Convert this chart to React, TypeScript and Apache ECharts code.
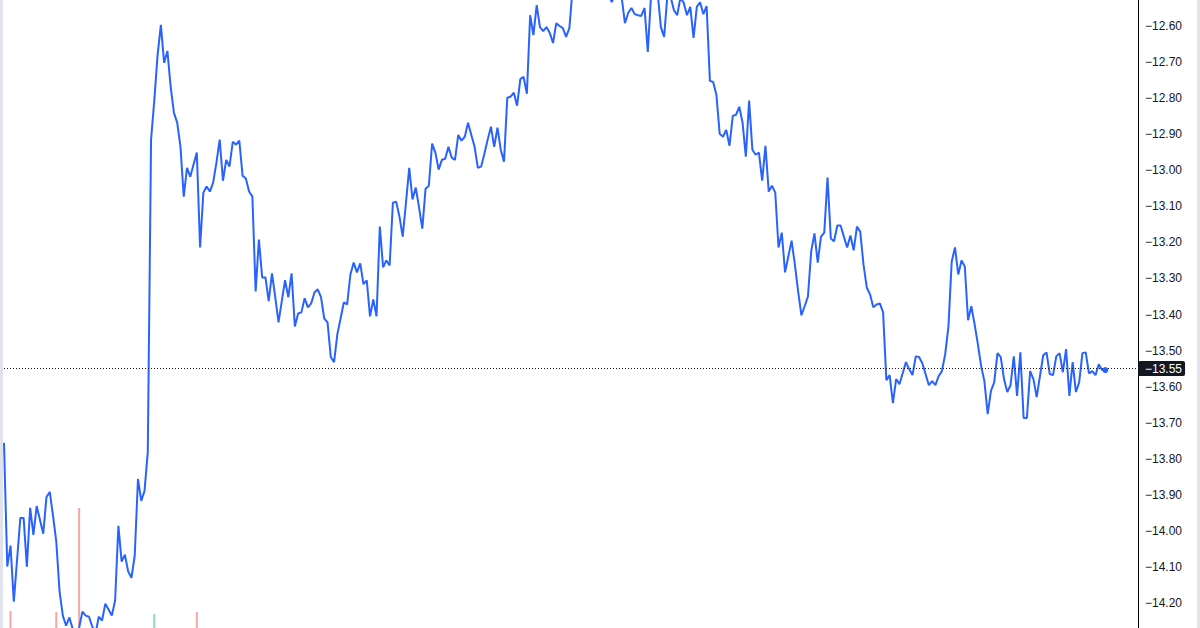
import React, { useEffect, useRef } from "react";
import * as echarts from "echarts";

// Price series (session pieces, in order)
const earlyPrices = [
  -13.756, -14.099, -14.041, -14.196, -14.080, -13.964, -13.964, -14.099, -13.936, -14.011,
  -13.931, -13.969, -14.008, -13.906, -13.892, -13.958, -14.030, -14.168, -14.235, -14.263,
  -14.240, -14.271, -14.298, -14.268, -14.224, -14.235, -14.238, -14.265, -14.285, -14.238,
  -14.249, -14.202, -14.218, -14.235, -14.193, -13.986, -14.085, -14.066, -14.113, -14.130,
  -14.069, -13.856, -13.917, -13.889, -13.781,
];
const spikePrices = [
  -12.915, -12.805, -12.680, -12.597, -12.702, -12.669, -12.769, -12.841, -12.868, -12.935,
  -13.073, -12.993, -13.018, -12.984, -12.951, -13.214, -13.062, -13.045, -13.059, -13.034,
  -12.979, -12.915, -13.029, -12.971, -12.990, -12.921, -12.929, -12.918, -13.015, -13.023,
  -13.059, -13.073,
];
const middayPrices = [
  -13.336, -13.192, -13.297, -13.297, -13.363, -13.286, -13.352, -13.422, -13.363, -13.305,
  -13.352, -13.286, -13.433, -13.397, -13.394, -13.355, -13.380, -13.369, -13.339, -13.330,
  -13.352, -13.411, -13.422, -13.518, -13.532, -13.455, -13.411, -13.366, -13.372, -13.289,
  -13.256, -13.283, -13.258, -13.316, -13.305, -13.405, -13.358, -13.405, -13.156, -13.269,
  -13.250, -13.264, -13.090, -13.087, -13.128, -13.184, -13.090, -12.993, -13.081, -13.048,
  -13.103, -13.162, -13.051, -13.043, -12.926, -12.951, -12.998, -12.971, -12.968, -12.935,
  -12.965, -12.971, -12.902, -12.918, -12.907, -12.868, -12.902, -12.935, -12.993, -12.990,
  -12.954, -12.915, -12.879, -12.935, -12.882, -12.943, -12.976, -12.799, -12.796, -12.785,
  -12.821, -12.747, -12.741, -12.788, -12.570, -12.625, -12.542, -12.603, -12.614, -12.603,
  -12.619, -12.647, -12.592, -12.600, -12.606, -12.630, -12.606,
];
const peakPrices = [
  -12.495, -12.445, -12.467, -12.417, -12.451, -12.431, -12.478, -12.445, -12.459, -12.489,
  -12.473, -12.511, -12.534, -12.506, -12.487, -12.520,
  -12.592, -12.564, -12.550, -12.567, -12.570, -12.572, -12.550, -12.672, -12.514, -12.459,
  -12.506, -12.603, -12.630, -12.514, -12.520, -12.556, -12.570, -12.520, -12.536, -12.570,
  -12.547, -12.633, -12.547, -12.534, -12.567, -12.545,
];
const latePrices = [
  -12.752, -12.755, -12.791, -12.899, -12.907, -12.888, -12.932, -12.849, -12.846, -12.824,
  -12.868, -12.962, -12.807, -12.943, -12.957, -12.951, -13.029, -12.932, -13.059, -13.043,
  -13.062, -13.214, -13.173, -13.283, -13.239, -13.195, -13.261, -13.336, -13.402, -13.377,
  -13.350, -13.225, -13.175, -13.256, -13.184, -13.173, -13.020, -13.189, -13.197, -13.153,
  -13.153, -13.184, -13.214, -13.181, -13.222, -13.156, -13.170, -13.261, -13.325, -13.344,
  -13.380, -13.372, -13.369, -13.394, -13.582, -13.568, -13.646, -13.579, -13.593, -13.563,
  -13.532, -13.552, -13.568, -13.516, -13.518, -13.535, -13.565, -13.596, -13.585, -13.596,
  -13.571, -13.557, -13.510, -13.433, -13.253, -13.214, -13.289, -13.250, -13.267, -13.416,
  -13.377, -13.427, -13.482, -13.543, -13.585, -13.676, -13.612, -13.588, -13.507, -13.518,
  -13.579, -13.615, -13.596, -13.516, -13.626, -13.505, -13.687, -13.687, -13.557, -13.579,
  -13.629, -13.571, -13.513, -13.505, -13.565, -13.568, -13.516, -13.507, -13.560, -13.496,
  -13.626, -13.532, -13.615, -13.588, -13.507, -13.505, -13.563, -13.557, -13.568, -13.538,
  -13.554, -13.554,
];

// Volume bars (bar index, volume, up?)
const volumeIndex = [2, 16, 23, 46, 59];
const volumeValue = [170, 160, 1200, 140, 160];
const volumeUp = [false, false, false, true, false];

// Y axis: visible price range and tick labels
const yMin = -14.2693;
const yMax = -12.5278;
const yTicks = [
  -12.6, -12.7, -12.8, -12.9, -13.0, -13.1, -13.2, -13.3, -13.4,
  -13.5, -13.6, -13.7, -13.8, -13.9, -14.0, -14.1, -14.2,
];
const rightPad = 10;

const prices = [...earlyPrices, ...spikePrices, ...middayPrices, ...peakPrices, ...latePrices];

const fmt = (v: number) => {
  const s = v.toFixed(2);
  return s.startsWith("-") ? "\u2212" + s.slice(1) : s;
};

export default function App() {
  const ref = useRef<HTMLDivElement>(null);
  useEffect(() => {
    if (!ref.current) return;
    const chart = echarts.init(ref.current, undefined, { renderer: "svg" });
    const n = prices.length;
    const total = n + rightPad;
    const cats = Array.from({ length: total }, (_, i) => String(i));
    const lineData: (number | null)[] = [...prices, ...Array(rightPad).fill(null)];
    const volData: any[] = Array(total).fill(null);
    volumeIndex.forEach((idx, k) => {
      volData[idx] = {
        value: volumeValue[k],
        itemStyle: { color: volumeUp[k] ? "#92d2c6" : "#f5a6a3" },
      };
    });
    const last = prices[n - 1];
    const font = "'Liberation Sans', Arial, sans-serif";

    chart.setOption({
      animation: false,
      backgroundColor: "#ffffff",
      grid: [
        { left: 4, right: 62, top: 0, bottom: 0 },
        { left: 4, right: 62, top: 0, bottom: 0 },
      ],
      xAxis: [
        { type: "category", data: cats, boundaryGap: false, show: false, gridIndex: 0 },
        { type: "category", data: cats, boundaryGap: false, show: false, gridIndex: 1 },
      ],
      yAxis: [
        {
          type: "value",
          gridIndex: 0,
          position: "right",
          min: yMin,
          max: yMax,
          axisLine: { show: true, lineStyle: { color: "#000000", width: 1 } },
          axisTick: { show: false },
          splitLine: { show: false },
          axisLabel: {
            margin: 7,
            color: "#131722",
            fontSize: 12,
            fontFamily: font,
            customValues: yTicks,
            showMinLabel: true,
            showMaxLabel: true,
            formatter: (v: number) => fmt(v),
          },
        },
        { type: "value", gridIndex: 1, min: 0, max: 6280, show: false },
      ],
      series: [
        {
          type: "bar",
          xAxisIndex: 1,
          yAxisIndex: 1,
          data: volData,
          barWidth: 2,
          z: 1,
        },
        {
          type: "line",
          xAxisIndex: 0,
          yAxisIndex: 0,
          data: lineData,
          showSymbol: false,
          symbol: "none",
          clip: true,
          lineStyle: { color: "#2962ff", width: 2 },
          itemStyle: { color: "#2962ff" },
          z: 3,
          markLine: {
            silent: true,
            symbol: "none",
            lineStyle: { type: [1, 2], color: "#131722", width: 1 },
            label: {
              show: true,
              position: "end",
              distance: 0,
              formatter: () => fmt(last),
              color: "#ffffff",
              backgroundColor: "#131722",
              fontSize: 12,
              fontFamily: font,
              padding: [2, 3, 1, 7],
              borderRadius: 2,
            },
            data: [{ yAxis: last }],
          },
          markPoint: {
            silent: true,
            symbol: "circle",
            symbolSize: 6,
            itemStyle: { color: "#2962ff" },
            label: { show: false },
            data: [{ coord: [n - 1, last] }],
          },
        },
      ],
      graphic: [
        { type: "rect", left: 0, top: 0, shape: { width: 3, height: 628 }, style: { fill: "#e0e3eb" }, z: 10 },
        { type: "rect", left: 1197, top: 0, shape: { width: 3, height: 628 }, style: { fill: "#e0e3eb" }, z: 10 },
      ],
    });
    return () => chart.dispose();
  }, []);
  return (
    <div
      ref={ref}
      style={{ position: "fixed", left: 0, top: 0, width: 1200, height: 628, background: "#fff" }}
    />
  );
}
